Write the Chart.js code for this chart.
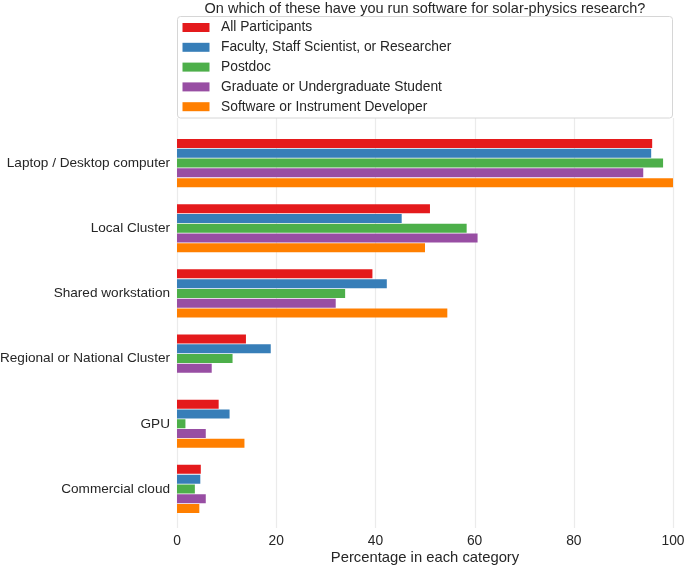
<!DOCTYPE html>
<html>
<head>
<meta charset="utf-8">
<script src="https://cdn.jsdelivr.net/npm/chart.js@4/dist/chart.umd.min.js"></script>
<style>
html,body{margin:0;padding:0;background:#fff;}
#wrap{width:685px;height:565px;}
</style>
</head>
<body>
<div id="wrap"><canvas id="c" width="685" height="565"></canvas></div>
<script>
const titleText = 'On which of these have you run software for solar-physics research?';
const categories = ['Laptop / Desktop computer','Local Cluster','Shared workstation','Regional or National Cluster','GPU','Commercial cloud'];
const seriesNames = ['All Participants','Faculty, Staff Scientist, or Researcher','Postdoc','Graduate or Undergraduate Student','Software or Instrument Developer'];
const allParticipants = [95.8, 51.0, 39.4, 13.9, 8.4, 4.8];
const faculty = [95.6, 45.3, 42.3, 18.9, 10.6, 4.7];
const postdoc = [98.0, 58.4, 33.9, 11.2, 1.7, 3.6];
const student = [94.0, 60.6, 32.0, 7.0, 5.8, 5.8];
const developer = [100, 50.0, 54.5, 0, 13.6, 4.5];
const xTicks = [0, 20, 40, 60, 80, 100];
const xTitle = 'Percentage in each category';
const colors = ['#e41a1c','#377eb8','#4daf4a','#984ea3','#ff7f00'];

const FONT = "'Liberation Sans', Arial, sans-serif";
const TXT = '#262626';
const seriesValues = [allParticipants, faculty, postdoc, student, developer];

const decor = {
  id: 'decor',
  beforeDatasetsDraw(chart) {
    const ctx = chart.ctx;
    const xs = chart.scales.x;
    ctx.save();
    ctx.strokeStyle = '#ebebeb';
    ctx.lineWidth = 1.2;
    xTicks.forEach(v => {
      const px = Math.round(xs.getPixelForValue(v)) + 0.5;
      ctx.beginPath();
      ctx.moveTo(px, 118);
      ctx.lineTo(px, 528);
      ctx.stroke();
    });
    ctx.restore();
  },
  afterDraw(chart) {
    const ctx = chart.ctx;
    const ca = chart.chartArea;
    ctx.save();
    // title
    ctx.fillStyle = TXT;
    ctx.font = '14.5px ' + FONT;
    ctx.textAlign = 'center';
    ctx.textBaseline = 'middle';
    ctx.fillText(titleText, (ca.left + ca.right) / 2, 9);
    // legend box
    const bx = ca.left + 0.5, by = 16.5, bw = ca.right - ca.left - 1, bh = 101.5, r = 3;
    ctx.beginPath();
    ctx.moveTo(bx + r, by);
    ctx.lineTo(bx + bw - r, by);
    ctx.arcTo(bx + bw, by, bx + bw, by + r, r);
    ctx.lineTo(bx + bw, by + bh - r);
    ctx.arcTo(bx + bw, by + bh, bx + bw - r, by + bh, r);
    ctx.lineTo(bx + r, by + bh);
    ctx.arcTo(bx, by + bh, bx, by + bh - r, r);
    ctx.lineTo(bx, by + r);
    ctx.arcTo(bx, by, bx + r, by, r);
    ctx.closePath();
    ctx.fillStyle = 'rgba(255,255,255,0.9)';
    ctx.fill();
    ctx.strokeStyle = '#d6d6d6';
    ctx.lineWidth = 1;
    ctx.stroke();
    ctx.font = '13.8px ' + FONT;
    ctx.textAlign = 'left';
    chart.data.datasets.forEach((ds, i) => {
      const cy = 27.5 + i * 19.8;
      ctx.fillStyle = ds.backgroundColor;
      ctx.fillRect(182.5, cy - 4.5, 27, 9);
      ctx.fillStyle = TXT;
      ctx.fillText(ds.label, 221, cy);
    });
    ctx.restore();
  }
};

new Chart(document.getElementById('c'), {
  type: 'bar',
  data: {
    labels: categories,
    datasets: seriesNames.map((n, i) => ({
      label: n,
      data: seriesValues[i],
      backgroundColor: colors[i],
      borderWidth: 0,
      categoryPercentage: 0.75,
      barPercentage: 0.92
    }))
  },
  options: {
    indexAxis: 'y',
    responsive: false,
    animation: false,
    devicePixelRatio: 1,
    layout: { padding: { top: 130.5, right: 0, left: 0, bottom: 0 } },
    plugins: { legend: { display: false }, title: { display: false }, tooltip: { enabled: false } },
    scales: {
      x: {
        type: 'linear',
        min: 0, max: 100,
        afterBuildTicks(scale) { scale.ticks = xTicks.map(v => ({ value: v })); },
        afterFit(scale) { scale.height = 43.5; scale.paddingRight = 12; scale.paddingLeft = 0; },
        grid: { display: false, drawTicks: false },
        border: { display: false },
        ticks: { color: TXT, font: { family: FONT, size: 13.8 }, padding: 11 },
        title: { display: true, text: xTitle, color: TXT, font: { family: FONT, size: 14.8 }, padding: { top: 0, bottom: -2 } }
      },
      y: {
        afterFit(scale) { scale.width = 177; },
        grid: { display: false, drawTicks: false },
        border: { display: false },
        ticks: { color: TXT, font: { family: FONT, size: 13.6 }, padding: 7 }
      }
    }
  },
  plugins: [decor]
});
</script>
</body>
</html>
